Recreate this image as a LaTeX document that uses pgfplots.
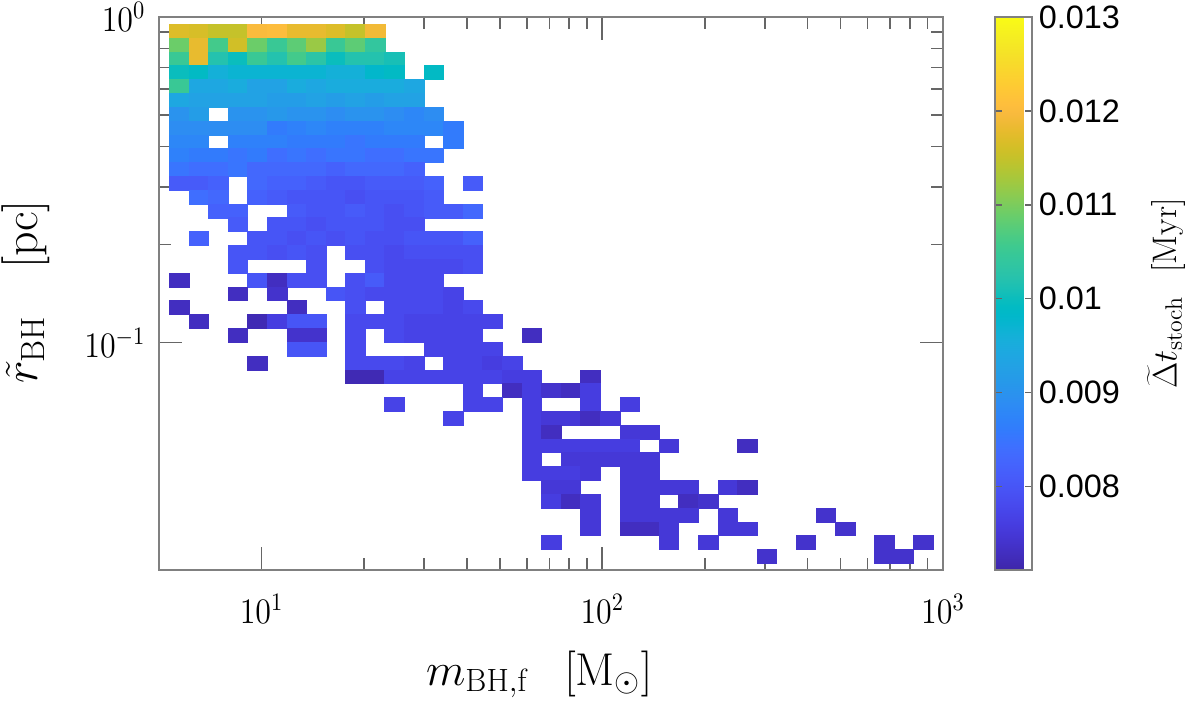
\RequirePackage{fix-cm}
\documentclass[border=0pt]{standalone}
\usepackage{fontspec}
\usepackage{pgfplots}
\pgfplotsset{compat=1.18}
\newfontfamily\lsans{Liberation Sans}
\pgfdeclareplotmark{cell}{%
  \pgfpathrectangle{\pgfpoint{-4.9bp}{-3.455bp}}{\pgfpoint{9.8bp}{6.91bp}}%
  \pgfusepathqfillstroke}
\pgfplotsset{colormap={parula}{
rgb=(0.2422,0.1504,0.6603) rgb=(0.2504,0.1650,0.7076) rgb=(0.2578,0.1818,0.7511) rgb=(0.2647,0.1978,0.7952)
rgb=(0.2706,0.2147,0.8364) rgb=(0.2751,0.2342,0.8710) rgb=(0.2783,0.2559,0.8991) rgb=(0.2803,0.2782,0.9221)
rgb=(0.2813,0.3006,0.9414) rgb=(0.2810,0.3228,0.9579) rgb=(0.2795,0.3447,0.9717) rgb=(0.2760,0.3667,0.9829)
rgb=(0.2699,0.3892,0.9906) rgb=(0.2602,0.4123,0.9952) rgb=(0.2440,0.4358,0.9988) rgb=(0.2206,0.4603,0.9973)
rgb=(0.1963,0.4847,0.9892) rgb=(0.1834,0.5074,0.9798) rgb=(0.1786,0.5289,0.9682) rgb=(0.1764,0.5499,0.9520)
rgb=(0.1687,0.5703,0.9359) rgb=(0.1540,0.5902,0.9218) rgb=(0.1460,0.6091,0.9079) rgb=(0.1380,0.6276,0.8973)
rgb=(0.1248,0.6459,0.8883) rgb=(0.1113,0.6635,0.8763) rgb=(0.0952,0.6798,0.8598) rgb=(0.0689,0.6948,0.8394)
rgb=(0.0297,0.7082,0.8163) rgb=(0.0036,0.7203,0.7917) rgb=(0.0067,0.7312,0.7660) rgb=(0.0433,0.7411,0.7394)
rgb=(0.0964,0.7500,0.7120) rgb=(0.1408,0.7584,0.6842) rgb=(0.1717,0.7670,0.6554) rgb=(0.1938,0.7758,0.6251)
rgb=(0.2161,0.7843,0.5923) rgb=(0.2470,0.7918,0.5567) rgb=(0.2906,0.7973,0.5188) rgb=(0.3406,0.8008,0.4789)
rgb=(0.3909,0.8029,0.4354) rgb=(0.4456,0.8024,0.3909) rgb=(0.5044,0.7993,0.3480) rgb=(0.5616,0.7942,0.3045)
rgb=(0.6174,0.7876,0.2612) rgb=(0.6720,0.7793,0.2227) rgb=(0.7242,0.7698,0.1910) rgb=(0.7738,0.7598,0.1646)
rgb=(0.8203,0.7498,0.1535) rgb=(0.8634,0.7406,0.1596) rgb=(0.9035,0.7330,0.1774) rgb=(0.9393,0.7288,0.2100)
rgb=(0.9728,0.7298,0.2394) rgb=(0.9956,0.7434,0.2371) rgb=(0.9970,0.7659,0.2199) rgb=(0.9952,0.7893,0.2028)
rgb=(0.9892,0.8136,0.1885) rgb=(0.9786,0.8386,0.1766) rgb=(0.9676,0.8639,0.1643) rgb=(0.9610,0.8890,0.1537)
rgb=(0.9597,0.9135,0.1423) rgb=(0.9628,0.9373,0.1265) rgb=(0.9691,0.9606,0.1064) rgb=(0.9769,0.9839,0.0805)
}}
\pgfplotstableread{
x y v
5.727 0.9045 0.0117
6.538 0.9045 0.01165
7.464 0.9045 0.0115
8.520 0.9045 0.0115
9.726 0.9045 0.0120
11.10 0.9045 0.01205
12.68 0.9045 0.0118
14.47 0.9045 0.0118
16.52 0.9045 0.0117
18.86 0.9045 0.0115
21.53 0.9045 0.0119
5.727 0.8203 0.0109
6.538 0.8203 0.0118
7.464 0.8203 0.0106
8.520 0.8203 0.0116
9.726 0.8203 0.0109
11.10 0.8203 0.0105
12.68 0.8203 0.0108
14.47 0.8203 0.0112
16.52 0.8203 0.0105
18.86 0.8203 0.0108
21.53 0.8203 0.0104
5.727 0.7439 0.0105
6.538 0.7439 0.0118
7.464 0.7439 0.0102
8.520 0.7439 0.0100
9.726 0.7439 0.0105
11.10 0.7439 0.0102
12.68 0.7439 0.0106
14.47 0.7439 0.0103
16.52 0.7439 0.0100
18.86 0.7439 0.0102
21.53 0.7439 0.0102
24.57 0.7439 0.0101
5.727 0.6745 0.0100
6.538 0.6745 0.0099
7.464 0.6745 0.0096
8.520 0.6745 0.0097
9.726 0.6745 0.0097
11.10 0.6745 0.0097
12.68 0.6745 0.0097
14.47 0.6745 0.0097
16.52 0.6745 0.0096
18.86 0.6745 0.0096
21.53 0.6745 0.0098
24.57 0.6745 0.0099
32.02 0.6745 0.0099
5.727 0.6117 0.0105
6.538 0.6117 0.0094
7.464 0.6117 0.0094
8.520 0.6117 0.0095
9.726 0.6117 0.0093
11.10 0.6117 0.0093
12.68 0.6117 0.0095
14.47 0.6117 0.0094
16.52 0.6117 0.0095
18.86 0.6117 0.0095
21.53 0.6117 0.0095
24.57 0.6117 0.0095
28.05 0.6117 0.0094
5.727 0.5547 0.0094
6.538 0.5547 0.0093
7.464 0.5547 0.0093
8.520 0.5547 0.0093
9.726 0.5547 0.0093
11.10 0.5547 0.0092
12.68 0.5547 0.0092
14.47 0.5547 0.0093
16.52 0.5547 0.0092
18.86 0.5547 0.0093
21.53 0.5547 0.0092
24.57 0.5547 0.0093
28.05 0.5547 0.0093
5.727 0.5030 0.0090
6.538 0.5030 0.0092
8.520 0.5030 0.0090
9.726 0.5030 0.0090
11.10 0.5030 0.0091
12.68 0.5030 0.0090
14.47 0.5030 0.0090
16.52 0.5030 0.0089
18.86 0.5030 0.0090
21.53 0.5030 0.0090
24.57 0.5030 0.0089
28.05 0.5030 0.0088
32.02 0.5030 0.0089
5.727 0.4562 0.0089
6.538 0.4562 0.0089
7.464 0.4562 0.0089
8.520 0.4562 0.0089
9.726 0.4562 0.0089
11.10 0.4562 0.0086
12.68 0.4562 0.0087
14.47 0.4562 0.0088
16.52 0.4562 0.0087
18.86 0.4562 0.0087
21.53 0.4562 0.0087
24.57 0.4562 0.0088
28.05 0.4562 0.0088
32.02 0.4562 0.0088
36.56 0.4562 0.0086
5.727 0.4137 0.0088
6.538 0.4137 0.0088
8.520 0.4137 0.0087
9.726 0.4137 0.0087
11.10 0.4137 0.0087
12.68 0.4137 0.0086
14.47 0.4137 0.0086
16.52 0.4137 0.0086
18.86 0.4137 0.0085
21.53 0.4137 0.0086
24.57 0.4137 0.0086
28.05 0.4137 0.0086
36.56 0.4137 0.0086
5.727 0.3751 0.0087
6.538 0.3751 0.0086
7.464 0.3751 0.0086
8.520 0.3751 0.0085
9.726 0.3751 0.0086
11.10 0.3751 0.0084
12.68 0.3751 0.0085
14.47 0.3751 0.0084
16.52 0.3751 0.0085
18.86 0.3751 0.0085
21.53 0.3751 0.0084
24.57 0.3751 0.0084
28.05 0.3751 0.0085
32.02 0.3751 0.0085
5.727 0.3402 0.0085
6.538 0.3402 0.0084
7.464 0.3402 0.0084
8.520 0.3402 0.0085
9.726 0.3402 0.0083
11.10 0.3402 0.0083
12.68 0.3402 0.0083
14.47 0.3402 0.0083
16.52 0.3402 0.0082
18.86 0.3402 0.0083
21.53 0.3402 0.0083
24.57 0.3402 0.0083
28.05 0.3402 0.0082
5.727 0.3085 0.0081
6.538 0.3085 0.0081
7.464 0.3085 0.0082
9.726 0.3085 0.0083
11.10 0.3085 0.0082
12.68 0.3085 0.0082
14.47 0.3085 0.0081
16.52 0.3085 0.0080
18.86 0.3085 0.0080
21.53 0.3085 0.0081
24.57 0.3085 0.0081
28.05 0.3085 0.0081
32.02 0.3085 0.0082
41.73 0.3085 0.0081
6.538 0.2798 0.0084
7.464 0.2798 0.0083
9.726 0.2798 0.0082
11.10 0.2798 0.0081
12.68 0.2798 0.0080
14.47 0.2798 0.0080
16.52 0.2798 0.0080
18.86 0.2798 0.0079
21.53 0.2798 0.0080
24.57 0.2798 0.0080
28.05 0.2798 0.0080
32.02 0.2798 0.0081
7.464 0.2537 0.0082
8.520 0.2537 0.0082
12.68 0.2537 0.0081
14.47 0.2537 0.0080
16.52 0.2537 0.0080
18.86 0.2537 0.0081
21.53 0.2537 0.0080
24.57 0.2537 0.0079
28.05 0.2537 0.0080
32.02 0.2537 0.0081
36.56 0.2537 0.0081
41.73 0.2537 0.0083
8.520 0.2301 0.0081
11.10 0.2301 0.0080
12.68 0.2301 0.0080
14.47 0.2301 0.0079
16.52 0.2301 0.0080
18.86 0.2301 0.0080
21.53 0.2301 0.0080
24.57 0.2301 0.0079
28.05 0.2301 0.0079
6.538 0.2087 0.0082
9.726 0.2087 0.0080
11.10 0.2087 0.0080
12.68 0.2087 0.0079
14.47 0.2087 0.0080
16.52 0.2087 0.0079
18.86 0.2087 0.0080
21.53 0.2087 0.0079
24.57 0.2087 0.0079
28.05 0.2087 0.0080
32.02 0.2087 0.0080
36.56 0.2087 0.0080
41.73 0.2087 0.0082
8.520 0.1892 0.0080
9.726 0.1892 0.0080
11.10 0.1892 0.0079
12.68 0.1892 0.0080
14.47 0.1892 0.0079
18.86 0.1892 0.0079
21.53 0.1892 0.0079
24.57 0.1892 0.0078
28.05 0.1892 0.0079
32.02 0.1892 0.0079
36.56 0.1892 0.0079
41.73 0.1892 0.0079
8.520 0.1716 0.0080
14.47 0.1716 0.0079
21.53 0.1716 0.0079
24.57 0.1716 0.0078
28.05 0.1716 0.0078
32.02 0.1716 0.0078
36.56 0.1716 0.0078
41.73 0.1716 0.0079
5.727 0.1556 0.0073
9.726 0.1556 0.0080
11.10 0.1556 0.0073
12.68 0.1556 0.0079
14.47 0.1556 0.0079
18.86 0.1556 0.0079
21.53 0.1556 0.0081
24.57 0.1556 0.0078
28.05 0.1556 0.0078
32.02 0.1556 0.0078
8.520 0.1411 0.0073
11.10 0.1411 0.0074
16.52 0.1411 0.0080
18.86 0.1411 0.0079
21.53 0.1411 0.0078
24.57 0.1411 0.0078
28.05 0.1411 0.0078
32.02 0.1411 0.0078
36.56 0.1411 0.0077
5.727 0.1280 0.0073
12.68 0.1280 0.0073
18.86 0.1280 0.0079
24.57 0.1280 0.0078
28.05 0.1280 0.0078
32.02 0.1280 0.0078
36.56 0.1280 0.0077
41.73 0.1280 0.0078
6.538 0.1161 0.0073
9.726 0.1161 0.0072
11.10 0.1161 0.0076
12.68 0.1161 0.0080
14.47 0.1161 0.0080
18.86 0.1161 0.0078
21.53 0.1161 0.0078
24.57 0.1161 0.0078
28.05 0.1161 0.0077
32.02 0.1161 0.0077
36.56 0.1161 0.0077
41.73 0.1161 0.0077
47.64 0.1161 0.0077
8.520 0.1053 0.0073
12.68 0.1053 0.0074
14.47 0.1053 0.0074
18.86 0.1053 0.0078
24.57 0.1053 0.0078
28.05 0.1053 0.0077
32.02 0.1053 0.0077
36.56 0.1053 0.0077
41.73 0.1053 0.0077
62.08 0.1053 0.0073
12.68 0.09545 0.0080
14.47 0.09545 0.0080
18.86 0.09545 0.0078
32.02 0.09545 0.0077
36.56 0.09545 0.0077
41.73 0.09545 0.0077
47.64 0.09545 0.0077
9.726 0.08656 0.0073
18.86 0.08656 0.0078
21.53 0.08656 0.0078
24.57 0.08656 0.0078
28.05 0.08656 0.0077
36.56 0.08656 0.0077
41.73 0.08656 0.0077
47.64 0.08656 0.0076
54.38 0.08656 0.0077
18.86 0.07850 0.0072
21.53 0.07850 0.0072
24.57 0.07850 0.0077
28.05 0.07850 0.0077
32.02 0.07850 0.0077
36.56 0.07850 0.0077
41.73 0.07850 0.0077
47.64 0.07850 0.0077
54.38 0.07850 0.0076
62.08 0.07850 0.0076
92.35 0.07850 0.0073
41.73 0.07119 0.0077
54.38 0.07119 0.0073
62.08 0.07119 0.0076
70.87 0.07119 0.0074
80.90 0.07119 0.0073
92.35 0.07119 0.0076
24.57 0.06456 0.0077
41.73 0.06456 0.0077
47.64 0.06456 0.0077
62.08 0.06456 0.0076
92.35 0.06456 0.0076
120.4 0.06456 0.0076
36.56 0.05855 0.0077
62.08 0.05855 0.0076
70.87 0.05855 0.0075
80.90 0.05855 0.0075
92.35 0.05855 0.0073
105.4 0.05855 0.0075
62.08 0.05309 0.0076
70.87 0.05309 0.0073
120.4 0.05309 0.0075
137.4 0.05309 0.0075
62.08 0.04815 0.0076
70.87 0.04815 0.0076
80.90 0.04815 0.0076
92.35 0.04815 0.0076
105.4 0.04815 0.0076
120.4 0.04815 0.0076
156.8 0.04815 0.0075
266.4 0.04815 0.0073
62.08 0.04366 0.0076
80.90 0.04366 0.0075
92.35 0.04366 0.0075
105.4 0.04366 0.0075
120.4 0.04366 0.0075
137.4 0.04366 0.0075
62.08 0.03960 0.0076
70.87 0.03960 0.0076
80.90 0.03960 0.0076
92.35 0.03960 0.0075
120.4 0.03960 0.0075
137.4 0.03960 0.0075
70.87 0.03591 0.0075
80.90 0.03591 0.0075
120.4 0.03591 0.0075
137.4 0.03591 0.0075
156.8 0.03591 0.0075
179.0 0.03591 0.0075
233.3 0.03591 0.0075
266.4 0.03591 0.0073
70.87 0.03257 0.0076
80.90 0.03257 0.0073
92.35 0.03257 0.0075
120.4 0.03257 0.0075
137.4 0.03257 0.0075
179.0 0.03257 0.0073
204.4 0.03257 0.0074
92.35 0.02953 0.0075
120.4 0.02953 0.0075
137.4 0.02953 0.0075
156.8 0.02953 0.0075
179.0 0.02953 0.0075
233.3 0.02953 0.0075
452.3 0.02953 0.0074
92.35 0.02678 0.0075
120.4 0.02678 0.0073
137.4 0.02678 0.0073
156.8 0.02678 0.0075
233.3 0.02678 0.0075
266.4 0.02678 0.0075
516.4 0.02678 0.0074
70.87 0.02429 0.0076
156.8 0.02429 0.0075
204.4 0.02429 0.0075
396.2 0.02429 0.0074
672.9 0.02429 0.0074
876.9 0.02429 0.0074
304.1 0.02203 0.0074
672.9 0.02203 0.0074
768.2 0.02203 0.0074
}\cells
\begin{document}
\begin{tikzpicture}[x=1bp,y=1bp]
\begin{axis}[
  at={(79.5bp,-8.5bp)}, anchor=north west,
  scale only axis, width=392bp, height=276.5bp,
  xmode=log, ymode=log,
  xmin=5, xmax=1000, ymin=0.02, ymax=1,
  xtick={10,100,1000}, ytick={0.1,1},
  axis line style={draw=black!50, line width=0.9bp},
  tick style={draw=black!60, line width=0.8bp},
  tick align=inside,
  major tick length=11.5bp, minor tick length=6bp,
  tick label style={font=\fontsize{16bp}{18bp}\selectfont},
  yticklabel style={xshift=-3.3bp, yscale=1.12},
  xticklabel style={anchor=base, yshift=-26.5bp, yscale=1.12},
  xlabel={$m_{\mathrm{BH,f}}\hspace{0.8em}[\mathrm{M}_{\odot}]$},
  ylabel={$\tilde{r}_{\mathrm{BH}}\hspace{1em}[\mathrm{pc}]$},
  xlabel style={at={(0.485,-0.208)}, anchor=base, font=\fontsize{23bp}{26bp}\selectfont},
  ylabel style={at={(-0.155,0.503)}, anchor=base, font=\fontsize{24bp}{26bp}\selectfont},
  colormap name=parula,
  point meta min=0.00711, point meta max=0.013,
  axis on top,
  colorbar,
  colorbar style={
    at={(parent axis.north east)}, anchor=north west, xshift=17.5bp,
    width=18.35bp,
    scaled y ticks=false,
    axis line style={draw=black!50, line width=0.9bp},
    ytick={0.008,0.009,0.01,0.011,0.012,0.013},
    yticklabels={0.008,0.009,0.01,0.011,0.012,0.013},
    yticklabel style={font=\fontsize{16.2bp}{18bp}\selectfont\lsans},
    major tick length=3.5bp,
    tick style={draw=black!60, line width=0.8bp},
    ylabel={$\widetilde{\Delta} t_{\mathrm{stoch}}\hspace{0.7em}[\mathrm{Myr}]$},
    ylabel style={at={(4.95,0.5)}, anchor=base, font=\fontsize{17bp}{20bp}\selectfont},
  },
]
\addplot[scatter, only marks, mark=cell, point meta=explicit,
  scatter/use mapped color={draw=mapped color, fill=mapped color},
  mark options={line width=0.3bp}]
  table[x=x, y=y, meta=v] {\cells};
\end{axis}
\pgfresetboundingbox
\path (0,0) rectangle (600bp,-351bp);
\end{tikzpicture}
\end{document}
